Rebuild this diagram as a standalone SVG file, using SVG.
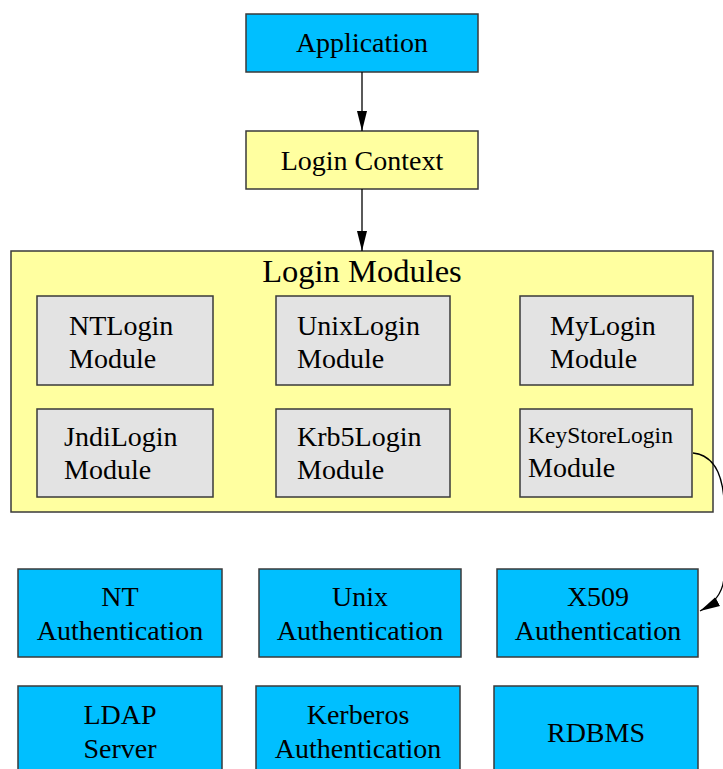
<svg xmlns="http://www.w3.org/2000/svg" width="723" height="769" viewBox="0 0 723 769">
<defs>
<style>
text{font-family:"Liberation Serif","Times New Roman",serif;fill:#000;}
.blue{fill:#00BFFF;stroke:#3a3a3a;stroke-width:1.5;}
.yel{fill:#FFFFA0;stroke:#3a3a3a;stroke-width:1.5;}
.grey{fill:#E3E3E3;stroke:#3a3a3a;stroke-width:1.5;}
.t{font-size:28px;}
.c{text-anchor:middle;}
.edge{fill:none;stroke:#000;stroke-width:1.3;}
</style>
<marker id="ahb" markerWidth="20" markerHeight="30" refX="28" refY="7" orient="auto" markerUnits="userSpaceOnUse" viewBox="0 0 28 14">
<path d="M0,0 L28,7 L0,14 Z" fill="#000"/>
</marker>
</defs>
<g id="application"><rect class="blue" x="246" y="14" width="232" height="58"/><text class="t c" x="362" y="52">Application</text></g>
<g id="login-context"><rect class="yel" x="246" y="131" width="232" height="58"/><text class="t c" x="362" y="170">Login Context</text></g>
<g id="login-modules"><rect class="yel" x="11" y="251" width="702" height="261"/><text class="c" x="362" y="282" font-size="32.5">Login Modules</text></g>
<g id="ntlogin"><rect class="grey" x="37" y="296" width="176" height="89"/><text class="t" x="69" y="335">NTLogin</text><text class="t" x="69" y="368">Module</text></g>
<g id="unixlogin"><rect class="grey" x="276" y="296" width="174" height="89"/><text class="t" x="297" y="335">UnixLogin</text><text class="t" x="297" y="368">Module</text></g>
<g id="mylogin"><rect class="grey" x="520" y="296" width="173" height="89"/><text class="t" x="550" y="335">MyLogin</text><text class="t" x="550" y="368">Module</text></g>
<g id="jndilogin"><rect class="grey" x="37" y="409" width="176" height="88"/><text class="t" x="64" y="446">JndiLogin</text><text class="t" x="64" y="479">Module</text></g>
<g id="krb5login"><rect class="grey" x="276" y="409" width="174" height="88"/><text class="t" x="297" y="446">Krb5Login</text><text class="t" x="297" y="479">Module</text></g>
<g id="keystorelogin"><rect class="grey" x="520" y="409" width="172" height="88"/><text x="528" y="443" font-size="23.5">KeyStoreLogin</text><text class="t" x="528" y="477">Module</text></g>
<g id="nt-auth"><rect class="blue" x="18" y="569" width="204" height="88"/><text class="t c" x="120" y="606">NT</text><text class="t c" x="120" y="640">Authentication</text></g>
<g id="unix-auth"><rect class="blue" x="259" y="569" width="202" height="88"/><text class="t c" x="360" y="606">Unix</text><text class="t c" x="360" y="640">Authentication</text></g>
<g id="x509-auth"><rect class="blue" x="497" y="569" width="201" height="88"/><text class="t c" x="598" y="606">X509</text><text class="t c" x="598" y="640">Authentication</text></g>
<g id="ldap"><rect class="blue" x="18" y="686" width="204" height="90"/><text class="t c" x="120" y="724">LDAP</text><text class="t c" x="120" y="758">Server</text></g>
<g id="kerberos"><rect class="blue" x="256" y="686" width="204" height="90"/><text class="t c" x="358" y="724">Kerberos</text><text class="t c" x="358" y="758">Authentication</text></g>
<g id="rdbms"><rect class="blue" x="494" y="686" width="204" height="90"/><text class="t c" x="596" y="742">RDBMS</text></g>
<g id="connectors">
<line class="edge" x1="362" y1="72" x2="362" y2="131" marker-end="url(#ahb)"/>
<line class="edge" x1="362" y1="189" x2="362" y2="251" marker-end="url(#ahb)"/>
<path class="edge" d="M693,453 C712,455 722,470 724,500 L724,575 C724,592 715,603 700,611" marker-end="url(#ahb)"/>
</g>
</svg>
